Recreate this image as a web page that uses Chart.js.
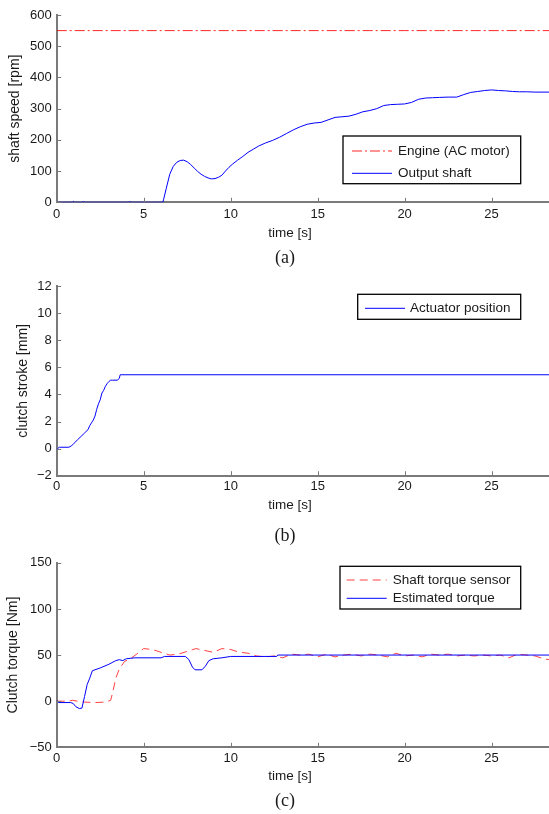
<!DOCTYPE html>
<html><head><meta charset="utf-8">
<script src="https://cdn.jsdelivr.net/npm/chart.js@4/dist/chart.umd.min.js"></script>
<style>
html,body{margin:0;padding:0;background:#fff;width:549px;height:814px;overflow:hidden;position:relative}
canvas{position:absolute;left:0}
</style></head><body>
<canvas id="ca" width="549" height="270" style="top:0px"></canvas>
<canvas id="cb" width="549" height="280" style="top:270px"></canvas>
<canvas id="cc" width="549" height="264" style="top:550px"></canvas>
<script>
// ---- (a) shaft speed ----
const engineT = [0, 2, 4, 6, 8, 10, 12, 14, 16, 18, 20, 22, 24, 26, 28.3];
const engineRpm = [550, 550, 550, 550, 550, 550, 550, 550, 550, 550, 550, 550, 550, 550, 550];
const shaftT = [0, 0.9, 0.96, 1.02, 1.48, 1.53, 1.58, 4.15, 4.2, 4.25, 6.1, 6.15, 6.3, 6.5, 6.7, 6.9, 7.1, 7.3, 7.5, 7.7, 7.9, 8.1, 8.3, 8.5, 8.7, 8.9, 9.1, 9.3, 9.5, 9.7, 9.9, 10.1, 10.4, 10.7, 11, 11.3, 11.6, 12, 12.4, 12.8, 13.2, 13.6, 14, 14.4, 14.8, 15.2, 15.6, 16, 16.4, 16.8, 17.2, 17.6, 18, 18.4, 18.8, 19.2, 19.6, 20, 20.4, 20.8, 21.2, 21.6, 22, 22.5, 23, 23.4, 23.8, 24.2, 24.6, 25, 25.4, 25.8, 26.2, 26.6, 27, 27.5, 28.3];
const shaftRpm = [0, 0, 3, 0, 0, 3, 0, 0, 3, 0, 0, 10, 45, 90, 115, 128, 134, 135, 130, 121, 110, 99, 90, 83, 78, 75, 76, 80, 87, 100, 112, 122, 135, 147, 160, 170, 180, 190, 198, 208, 220, 232, 242, 250, 254, 256, 264, 272, 274, 276, 282, 290, 294, 300, 310, 313, 314, 315, 320, 330, 334, 335, 336, 337, 337, 345, 352, 355, 358, 360, 358, 357, 355, 354, 354, 353, 353];
// ---- (b) actuator ----
const actT = [0, 0.05, 0.15, 0.7, 0.85, 1.0, 1.2, 1.4, 1.6, 1.8, 1.9, 2.0, 2.1, 2.2, 2.3, 2.4, 2.5, 2.6, 2.7, 2.8, 2.9, 3.0, 3.1, 3.2, 3.5, 3.6, 3.65, 3.7, 28.3];
const actMm = [-0.1, 0.0, 0.1, 0.1, 0.2, 0.4, 0.65, 0.9, 1.15, 1.4, 1.7, 1.9, 2.1, 2.4, 2.9, 3.3, 3.6, 4.1, 4.3, 4.6, 4.8, 4.95, 5.05, 5.05, 5.05, 5.2, 5.45, 5.45, 5.45];
// ---- (c) torque ----
const sensT = [0, 0.7, 0.9, 1.2, 1.6, 2.2, 2.8, 3.1, 3.2, 3.4, 3.6, 3.9, 4.3, 4.6, 5.0, 5.5, 6.0, 6.5, 7.0, 7.5, 8.0, 8.5, 9.0, 9.5, 10, 10.5, 11, 11.5, 12, 12.5, 13, 13.5, 14, 14.5, 15, 15.5, 16, 16.5, 17, 17.5, 18, 18.5, 19, 19.5, 20, 20.5, 21, 21.5, 22, 22.5, 23, 23.5, 24, 24.5, 25, 25.5, 26, 26.5, 27, 27.5, 28, 28.3];
const sensNm = [0, 0, 1, 0, -1, -1.5, -1, 1, 8, 25, 35, 43, 47, 51, 57, 56, 53, 50, 51, 54, 57, 55, 53, 57, 56, 53, 52, 49, 48, 49, 47, 51, 50, 51, 48, 51, 48, 50, 51, 49, 51, 50, 48, 52, 49, 50, 48, 51, 50, 51, 49, 50, 49, 50, 49, 50, 47, 51, 50, 49, 46, 45];
const estT = [0, 0.1, 0.8, 0.95, 1.1, 1.3, 1.45, 1.6, 1.75, 1.9, 2.05, 2.5, 3.0, 3.4, 3.6, 3.8, 4.0, 4.5, 6.0, 6.2, 7.4, 7.6, 7.8, 7.95, 8.35, 8.55, 8.75, 9.0, 9.5, 10.0, 12.65, 12.7, 28.3];
const estNm = [1, -1.5, -1.5, -2.5, -6, -8, -7.5, 5, 18, 25, 33, 36, 40, 44, 45, 44, 46, 47, 47, 48.5, 48.5, 45, 37, 34, 34, 38, 44, 46, 47, 48.5, 48.5, 50, 50];

const xTicks = [0, 5, 10, 15, 20, 25];
const FONT = '"Liberation Sans", Arial, sans-serif';
const TXT = '#1a1a1a';
const AX = '#7a7a7a';
const pts = (t, v) => t.map((x, i) => ({x: x, y: v[i]}));
const minus = v => v < 0 ? '\u2212' + Math.abs(v) : '' + v;

const deco = {
  id: 'deco',
  afterDraw(chart, args, o) {
    const ctx = chart.ctx;
    const {left, bottom} = chart.chartArea;
    const xs = chart.scales.x, ys = chart.scales.y;
    ctx.save();
    ctx.strokeStyle = AX; ctx.lineWidth = 1;
    xs.ticks.forEach(t => { const p = Math.round(xs.getPixelForValue(t.value)) + 0.5; ctx.beginPath(); ctx.moveTo(p, bottom); ctx.lineTo(p, bottom - 4.5); ctx.stroke(); });
    ys.ticks.forEach(t => { const p = Math.round(ys.getPixelForValue(t.value)) + 0.5; ctx.beginPath(); ctx.moveTo(left, p); ctx.lineTo(left + 4.5, p); ctx.stroke(); });
    ctx.fillStyle = TXT; ctx.textAlign = 'center'; ctx.textBaseline = 'middle';
    ctx.font = '13.5px ' + FONT;
    ctx.fillText('time [s]', 290, o.titleY);
    ctx.font = '18px "Liberation Serif", "Times New Roman", serif';
    ctx.fillText(o.caption, 285, o.captionY);
    // legend box
    const L = o.legend;
    ctx.fillStyle = '#fff'; ctx.fillRect(L.x0, L.y0, L.x1 - L.x0, L.y1 - L.y0);
    ctx.strokeStyle = '#000'; ctx.lineWidth = 1.3;
    ctx.strokeRect(L.x0, L.y0, L.x1 - L.x0, L.y1 - L.y0);
    L.items.forEach(it => {
      ctx.strokeStyle = it.color; ctx.lineWidth = 1; ctx.setLineDash(it.dash || []);
      ctx.beginPath(); ctx.moveTo(L.s0, it.y); ctx.lineTo(L.s1, it.y); ctx.stroke();
      ctx.setLineDash([]);
      ctx.fillStyle = TXT; ctx.textAlign = 'left'; ctx.font = '13.5px ' + FONT;
      ctx.fillText(it.label, L.tx, it.y);
    });
    ctx.restore();
  }
};

function makeChart(id, datasets, y, yTitle, yTitleX, pad, xPad, deco_) {
  return new Chart(document.getElementById(id), {
    type: 'line',
    data: {datasets: datasets},
    options: {
      responsive: false, animation: false, events: [],
      layout: {padding: {left: 0, right: 0, top: pad.top, bottom: pad.bottom}},
      plugins: {legend: {display: false}, tooltip: {enabled: false}, deco: deco_},
      elements: {point: {radius: 0}, line: {tension: 0, borderWidth: 1}},
      scales: {
        x: {
          type: 'linear', min: 0, max: 28.3,
          afterFit: s => { s.height = 30; },
          afterBuildTicks: s => { s.ticks = xTicks.map(v => ({value: v})); },
          ticks: {includeBounds: false, stepSize: 5, padding: xPad, color: TXT, font: {family: FONT, size: 13}},
          grid: {display: true, drawOnChartArea: false, drawTicks: false},
          border: {display: true, color: AX, width: 2}
        },
        y: {
          min: y.min, max: y.max,
          afterFit: s => { s.width = 56.7; },
          ticks: {stepSize: y.step, padding: 5, color: TXT, font: {family: FONT, size: 13}, callback: v => minus(v)},
          grid: {display: true, drawOnChartArea: false, drawTicks: false},
          border: {display: true, color: AX, width: 2},
          title: {display: true, text: yTitle, color: TXT, font: {family: FONT, size: 14}, padding: {top: yTitleX - 8.4, bottom: 0}}
        }
      }
    },
    plugins: [deco]
  });
}

makeChart('ca', [
  {data: pts(engineT, engineRpm), borderColor: 'rgba(255,0,0,0.85)', borderDash: [10, 3, 2, 3]},
  {data: pts(shaftT, shaftRpm), borderColor: '#0000ff'}
], {min: 0, max: 600, step: 100}, 'shaft speed [rpm]', 15, {top: 15, bottom: 37.7}, 4, {
  titleY: 233.3, caption: '(a)', captionY: 258,
  legend: {x0: 343, y0: 136, x1: 520.7, y1: 183.7, s0: 352, s1: 392, tx: 398, items: [
    {label: 'Engine (AC motor)', color: 'rgba(255,0,0,0.85)', dash: [10, 3, 2, 3], y: 151},
    {label: 'Output shaft', color: '#0000ff', y: 173.3}]}
});

makeChart('cb', [
  {data: pts(actT, actMm), borderColor: '#0000ff'}
], {min: -2, max: 12, step: 2}, 'clutch stroke [mm]', 22.7, {top: 16, bottom: 44.3}, 3, {
  titleY: 235, caption: '(b)', captionY: 266.7,
  legend: {x0: 357.7, y0: 24.3, x1: 520.7, y1: 49.3, s0: 365, s1: 405, tx: 410, items: [
    {label: 'Actuator position', color: '#0000ff', y: 38.3}]}
});

makeChart('cc', [
  {data: pts(estT, estNm), borderColor: '#0000ff', order: 0},
  {data: pts(sensT, sensNm), borderColor: 'rgba(255,0,0,0.75)', borderDash: [8, 5], order: 1}
], {min: -50, max: 150, step: 50}, 'Clutch torque [Nm]', 13.3, {top: 9, bottom: 36.7}, 3, {
  titleY: 226.7, caption: '(c)', captionY: 251.7,
  legend: {x0: 340, y0: 16.3, x1: 520.7, y1: 59, s0: 346.7, s1: 386.7, tx: 392.7, items: [
    {label: 'Shaft torque sensor', color: 'rgba(255,0,0,0.75)', dash: [8, 5], y: 30},
    {label: 'Estimated torque', color: '#0000ff', y: 48.3}]}
});
</script>
</body></html>
